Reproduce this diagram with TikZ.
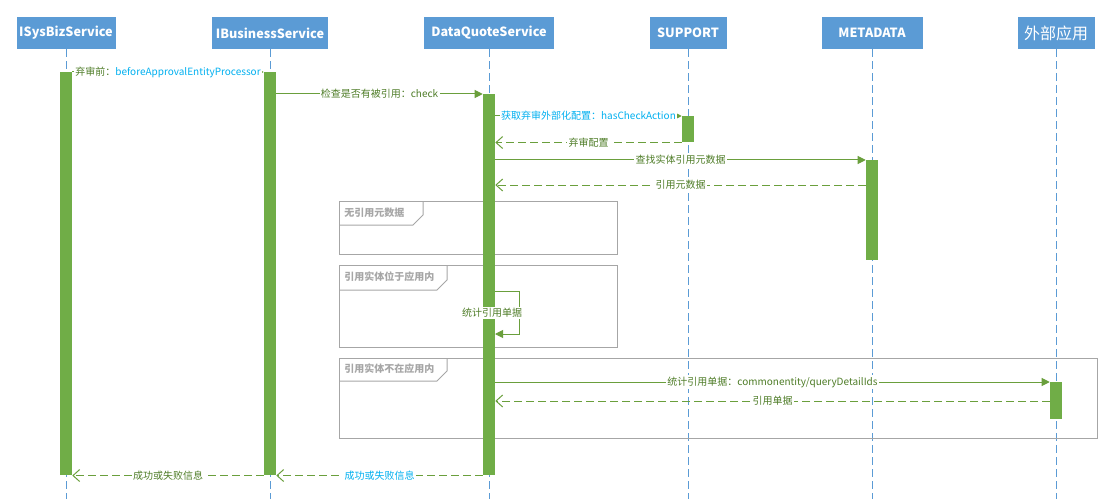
\documentclass[tikz,border=0pt]{standalone}
\usepackage{fontspec}
\setmainfont{Noto Sans CJK SC}
\usetikzlibrary{arrows.meta,positioning}
\definecolor{hdrblue}{HTML}{5B9BD5}
\definecolor{actgreen}{HTML}{70AD47}
\definecolor{msgline}{HTML}{6A9F3C}
\definecolor{msgtext}{HTML}{4F7D28}
\definecolor{txtcyan}{HTML}{00B0F0}
\definecolor{framegray}{HTML}{A6A6A6}

\begin{document}
\begin{tikzpicture}[x=0.75pt,y=-0.75pt,
  hdr/.style={fill=hdrblue,text=white,font=\bfseries\fontsize{9.5}{11}\selectfont,minimum height=24pt,inner sep=0pt},
  lifeline/.style={hdrblue,line width=0.75pt,dash pattern=on 6pt off 3pt},
  actbar/.style={fill=actgreen,minimum width=9pt,inner sep=0pt,anchor=north},
  callmsg/.style={msgline,line width=0.75pt,-{Triangle[length=6pt,width=6pt]}},
  retmsg/.style={msgline,line width=0.75pt,dash pattern=on 6pt off 3pt,-{Straight Barb[length=5pt,width=9pt]}},
  msglbl/.style={fill=white,inner sep=1pt,text=msgtext,font=\fontsize{7.5}{9}\selectfont},
  fragbox/.style={draw=framegray,line width=0.75pt},
  fraglbl/.style={text=framegray,font=\bfseries\fontsize{7.5}{9}\selectfont,anchor=west,inner sep=0pt}]
\useasboundingbox (0,0) rectangle (1113,499);
\coordinate (bot) at (0,499);

\foreach \nm/\x/\w/\txt in {isys/66/99/ISysBizService,ibiz/270/116/IBusinessService,dq/489/130/DataQuoteService,sup/688/77/SUPPORT,meta/872/101/METADATA}
	\node[hdr,minimum width=\w*0.75pt] (\nm) at (\x,33) {\txt};
\node[hdr,minimum width=77*0.75pt,font=\fontsize{12}{14}\selectfont] (ext) at (1056,33) {外部应用};

\foreach \nm in {isys,ibiz,dq,sup,meta,ext}
	\draw[lifeline] (\nm.south) -- (\nm.south |- bot);

% combined fragments
\draw[fragbox] (339,201) rectangle (617,254);
\draw[fragbox] (339,225) -- (413,225) -- (423,215) -- (423,201);
\node[fraglbl] (frag1) at (344,213) {无引用元数据};
\draw[fragbox] (339,265) rectangle (617,347);
\draw[fragbox] (339,290) -- (437,290) -- (447,280) -- (447,265);
\node[fraglbl] (frag2) at (344,277) {引用实体位于应用内};
\draw[fragbox] (339,358) rectangle (1097,438);
\draw[fragbox] (339,381) -- (437,381) -- (447,371) -- (447,358);
\node[fraglbl] (frag3) at (344,369) {引用实体不在应用内};

% activations
\node[actbar,minimum height=403*0.75pt] (isysbar) at (66,72) {};
\node[actbar,minimum height=403*0.75pt] (ibizbar) at (270,72) {};
\node[actbar,minimum height=381*0.75pt] (dqbar) at (489,94) {};
\node[actbar,minimum height=26*0.75pt] (supbar) at (688,116) {};
\node[actbar,minimum height=100*0.75pt] (metabar) at (872,160) {};
\node[actbar,minimum height=37*0.75pt] (extbar) at (1056,382) {};

\coordinate (metaret) at (866,185);
\coordinate (extret) at (1050,401);
\coordinate (selfout) at (495,291);
\coordinate (selfin) at (495,334);

\draw[callmsg] (isysbar.north east) -- (ibizbar.north west)
	node[msglbl,midway] {弃审前：\textcolor{txtcyan}{beforeApprovalEntityProcessor}};
\draw[callmsg] (ibizbar.east |- dqbar.north) -- (dqbar.north west)
	node[msglbl,midway] {检查是否有被引用：check};
\draw[callmsg] (dqbar.east |- supbar.north) -- (supbar.north west)
	node[msglbl,midway,text=txtcyan] {获取弃审外部化配置：hasCheckAction};
\draw[retmsg] (supbar.south west) -- (dqbar.east |- supbar.south)
	node[msglbl,midway] {弃审配置};
\draw[callmsg] (dqbar.east |- metabar.north) -- (metabar.north west)
	node[msglbl,midway] {查找实体引用元数据};
\draw[retmsg] (metaret) -- (dqbar.east |- metaret)
	node[msglbl,midway] {引用元数据};
\draw[callmsg] (selfout) -- ++(24,0) |- (selfin);
\node[msglbl] (selflbl) at (492,313) {统计引用单据};
\draw[callmsg] (dqbar.east |- extbar.north) -- (extbar.north west)
	node[msglbl,midway] {统计引用单据：commonentity/queryDetailIds};
\draw[retmsg] (extret) -- (dqbar.east |- extret)
	node[msglbl,midway] {引用单据};
\draw[retmsg] (dqbar.south west) -- (ibizbar.south east)
	node[msglbl,midway,text=txtcyan] {成功或失败信息};
\draw[retmsg] (ibizbar.south west) -- (isysbar.south east)
	node[msglbl,midway] {成功或失败信息};
\end{tikzpicture}
\end{document}
